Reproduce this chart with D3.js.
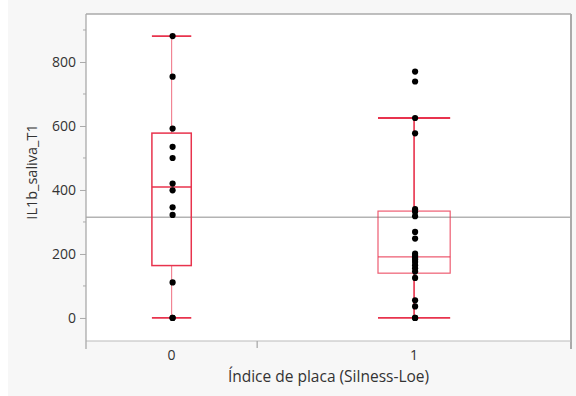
<!DOCTYPE html>
<html>
<head>
<meta charset="utf-8">
<script src="https://cdn.jsdelivr.net/npm/d3@7"></script>
<style>
  body { margin: 0; background: #ffffff; }
  svg { display: block; }
  text { font-family: "Open Sans", "Noto Sans", sans-serif; fill: #333; }
</style>
</head>
<body>
<div id="chart"></div>
<script>
// groups and their values
var groups = ["0", "1"];
var values0 = [0, 0, 111, 322, 346, 399, 420, 500, 535, 592, 754, 881];
var values1 = [0, 0, 36, 55, 125, 145, 155, 165, 175, 183, 188, 194, 201, 248, 269, 318, 332, 340, 577, 625, 739, 770];
var yTicks = [0, 200, 400, 600, 800];
var yMinorTicks = [100, 300, 500, 700, 900];
var yTitle = "IL1b_saliva_T1";
var xTitle = "Índice de placa (Silness-Loe)";

var W = 576, H = 396;
var margin = {top: 14, right: 5, bottom: 55, left: 86};
var w = W - margin.left - margin.right;
var h = H - margin.top - margin.bottom;
var red = "#e8334d";

var svg = d3.select("#chart").append("svg")
  .attr("width", W)
  .attr("height", H);

// background panel
svg.append("rect").attr("x", 0).attr("y", 0).attr("width", W).attr("height", H).attr("fill", "#ffffff");
svg.append("rect").attr("x", 8).attr("y", 0).attr("width", W - 8).attr("height", H).attr("fill", "#f7f7f7");

var g = svg.append("g").attr("transform", "translate(" + margin.left + "," + margin.top + ")");

g.append("rect").attr("width", w).attr("height", h).attr("fill", "#ffffff");

var data = [values0, values1];
var total = d3.sum(data, function(d) { return d.length; });

// x bands proportional to group size
var bands = [];
var acc = 0;
data.forEach(function(vals, i) {
  var bw = vals.length / total * w;
  bands.push({name: groups[i], x0: acc, x1: acc + bw, vals: vals});
  acc += bw;
});

var y = d3.scaleLinear().domain([-72, 950]).range([h, 0]);

// grand mean line
var all = values0.concat(values1);
var mean = d3.mean(all);
g.append("line")
  .attr("x1", 0).attr("x2", w)
  .attr("y1", y(mean)).attr("y2", y(mean))
  .attr("stroke", "#b3b3b3").attr("stroke-width", 1.3);

function q(sorted, p) {
  // quantile at position p*(n+1)
  var n = sorted.length;
  var pos = p * (n + 1);
  var lo = Math.floor(pos), f = pos - lo;
  if (lo < 1) return sorted[0];
  if (lo >= n) return sorted[n - 1];
  return sorted[lo - 1] + f * (sorted[lo] - sorted[lo - 1]);
}

bands.forEach(function(b, i) {
  var s = b.vals.slice().sort(d3.ascending);
  var q1 = q(s, 0.25), med = q(s, 0.5), q3 = q(s, 0.75);
  var iqr = q3 - q1;
  var hiW = d3.max(s.filter(function(v) { return v <= q3 + 1.5 * iqr; }));
  var loW = d3.min(s.filter(function(v) { return v >= q1 - 1.5 * iqr; }));
  var cx = (b.x0 + b.x1) / 2;
  var bw = (b.x1 - b.x0) * 0.23;

  var bg = g.append("g").attr("class", "box");
  // whiskers
  bg.append("line").attr("x1", cx).attr("x2", cx).attr("y1", y(q3)).attr("y2", y(hiW))
    .attr("stroke", red).attr("stroke-opacity", i === 0 ? 0.6 : 0.9).attr("stroke-width", i === 0 ? 1.2 : 1.8);
  bg.append("line").attr("x1", cx).attr("x2", cx).attr("y1", y(q1)).attr("y2", y(loW))
    .attr("stroke", red).attr("stroke-opacity", i === 0 ? 0.6 : 0.9).attr("stroke-width", i === 0 ? 1.2 : 1.8);
  // caps
  [hiW, loW].forEach(function(v) {
    bg.append("line").attr("x1", cx - bw / 2).attr("x2", cx + bw / 2).attr("y1", y(v)).attr("y2", y(v))
      .attr("stroke", red).attr("stroke-width", 1.8);
  });
  // box
  bg.append("rect").attr("x", cx - bw / 2).attr("y", y(q3)).attr("width", bw).attr("height", y(q1) - y(q3))
    .attr("fill", "none").attr("stroke", red).attr("stroke-width", i === 0 ? 1.5 : 1.2)
    .attr("stroke-opacity", i === 0 ? 1 : 0.8);
  bg.append("line").attr("x1", cx - bw / 2).attr("x2", cx + bw / 2).attr("y1", y(med)).attr("y2", y(med))
    .attr("stroke", red).attr("stroke-width", i === 0 ? 1.5 : 1.2).attr("stroke-opacity", i === 0 ? 1 : 0.8);

  // points
  g.selectAll(".pt" + i).data(b.vals).enter().append("circle")
    .attr("class", "pt" + i)
    .attr("cx", cx + 1)
    .attr("cy", function(d) { return y(d); })
    .attr("r", 3.1)
    .attr("fill", "#000");

  // x tick label
  g.append("text").attr("x", cx).attr("y", h + 19).attr("text-anchor", "middle")
    .style("font-size", "14px").text(b.name);
});

// frame
g.append("line").attr("x1", 0).attr("x2", w).attr("y1", 0).attr("y2", 0).attr("stroke", "#aaaaaa").attr("stroke-width", 1.5);
g.append("line").attr("x1", w).attr("x2", w).attr("y1", 0).attr("y2", h + 8).attr("stroke", "#aaaaaa").attr("stroke-width", 2);
g.append("line").attr("x1", 0).attr("x2", w).attr("y1", h).attr("y2", h).attr("stroke", "#bbbbbb").attr("stroke-width", 1);

// y axis
var yAxis = d3.axisLeft(y).tickValues(yTicks).tickSize(6).tickPadding(4);
var ya = g.append("g").attr("class", "y-axis").call(yAxis);
ya.select(".domain").remove();
ya.selectAll(".tick line").attr("stroke", "#aaaaaa");
ya.selectAll(".tick text").style("font-size", "14px").attr("fill", "#333")
  .style("font-family", "\"Open Sans\", \"Noto Sans\", sans-serif");
g.selectAll(".minor").data(yMinorTicks).enter().append("line")
  .attr("x1", -3).attr("x2", 0)
  .attr("y1", function(d) { return y(d); }).attr("y2", function(d) { return y(d); })
  .attr("stroke", "#aaaaaa");
g.append("line").attr("x1", 0).attr("x2", 0).attr("y1", 0).attr("y2", h + 8).attr("stroke", "#aaaaaa").attr("stroke-width", 1.3);

// x boundary tick
bands.slice(1).forEach(function(b) {
  g.append("line").attr("x1", b.x0).attr("x2", b.x0).attr("y1", h).attr("y2", h + 7)
    .attr("stroke", "#aaaaaa").attr("stroke-width", 1.3);
});

// titles
svg.append("text").attr("x", margin.left + w / 2).attr("y", 382).attr("text-anchor", "middle")
  .style("font-size", "15.5px").text(xTitle);
svg.append("text").attr("transform", "translate(37,172) rotate(-90)").attr("text-anchor", "middle")
  .style("font-size", "14.5px").text(yTitle);
</script>
</body>
</html>
